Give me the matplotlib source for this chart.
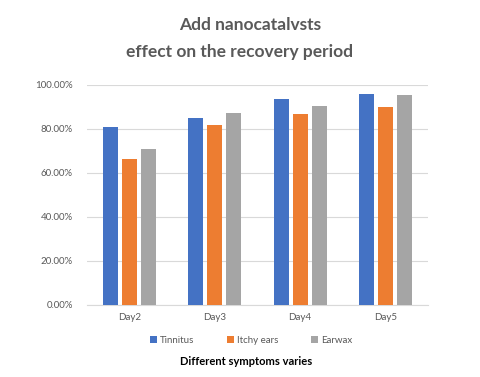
import numpy as np
import matplotlib.pyplot as plt
from matplotlib.ticker import PercentFormatter

# dados
days = ["Day2", "Day3", "Day4", "Day5"]
tinnitus = [0.81, 0.85, 0.935, 0.958]
itchy = [0.665, 0.817, 0.867, 0.898]
earwax = [0.707, 0.871, 0.906, 0.955]
series_names = ["Tinnitus", "Itchy ears", "Earwax"]
colors = ["#4472C4", "#ED7D31", "#A5A5A5"]

plt.rcParams['font.family'] = ['Lato', 'DejaVu Sans']

fig = plt.figure(figsize=(4.8, 3.77), dpi=100)
ax = fig.add_axes([0.181, 0.191, 0.711, 0.5836])

x = np.arange(len(days))
width = 0.176
step = 0.223
for i, (vals, name, c) in enumerate(zip([tinnitus, itchy, earwax], series_names, colors)):
    ax.bar(x + (i - 1) * step, vals, width, color=c, label=name, zorder=3)

ax.set_xlim(-0.5, len(days) - 0.5)
ax.set_ylim(0, 1.0)
ax.set_yticks(np.arange(0, 1.01, 0.2))
ax.yaxis.set_major_formatter(PercentFormatter(1.0, decimals=2))
ax.set_xticks(x)
ax.set_xticklabels(days)
ax.tick_params(axis='both', length=0, labelsize=7, labelcolor="#595959")
ax.tick_params(axis='y', pad=10)
ax.tick_params(axis='x', pad=6)
ax.grid(axis='y', color="#D9D9D9", linewidth=0.8, zorder=0)
for s in ['top', 'right', 'left']:
    ax.spines[s].set_visible(False)
ax.spines['bottom'].set_color("#D9D9D9")

fig.text(0.521, 0.934, "Add nanocatalvsts", ha='center', va='center',
         fontsize=12.5, fontweight='bold', color="#595959")
fig.text(0.498, 0.862, "effect on the recovery period", ha='center', va='center',
         fontsize=12.5, fontweight='bold', color="#595959")

fig.legend(loc='center', bbox_to_anchor=(0.523, 0.0963), ncol=3, frameon=False,
           fontsize=7, labelcolor="#595959", handlelength=0.7, handleheight=0.7,
           handletextpad=0.3, columnspacing=3.4)

fig.text(0.512, 0.041, "Different symptoms varies", ha='center', va='center',
         fontsize=8, fontweight='bold', color="black")

fig.savefig("out.png", dpi=100)
